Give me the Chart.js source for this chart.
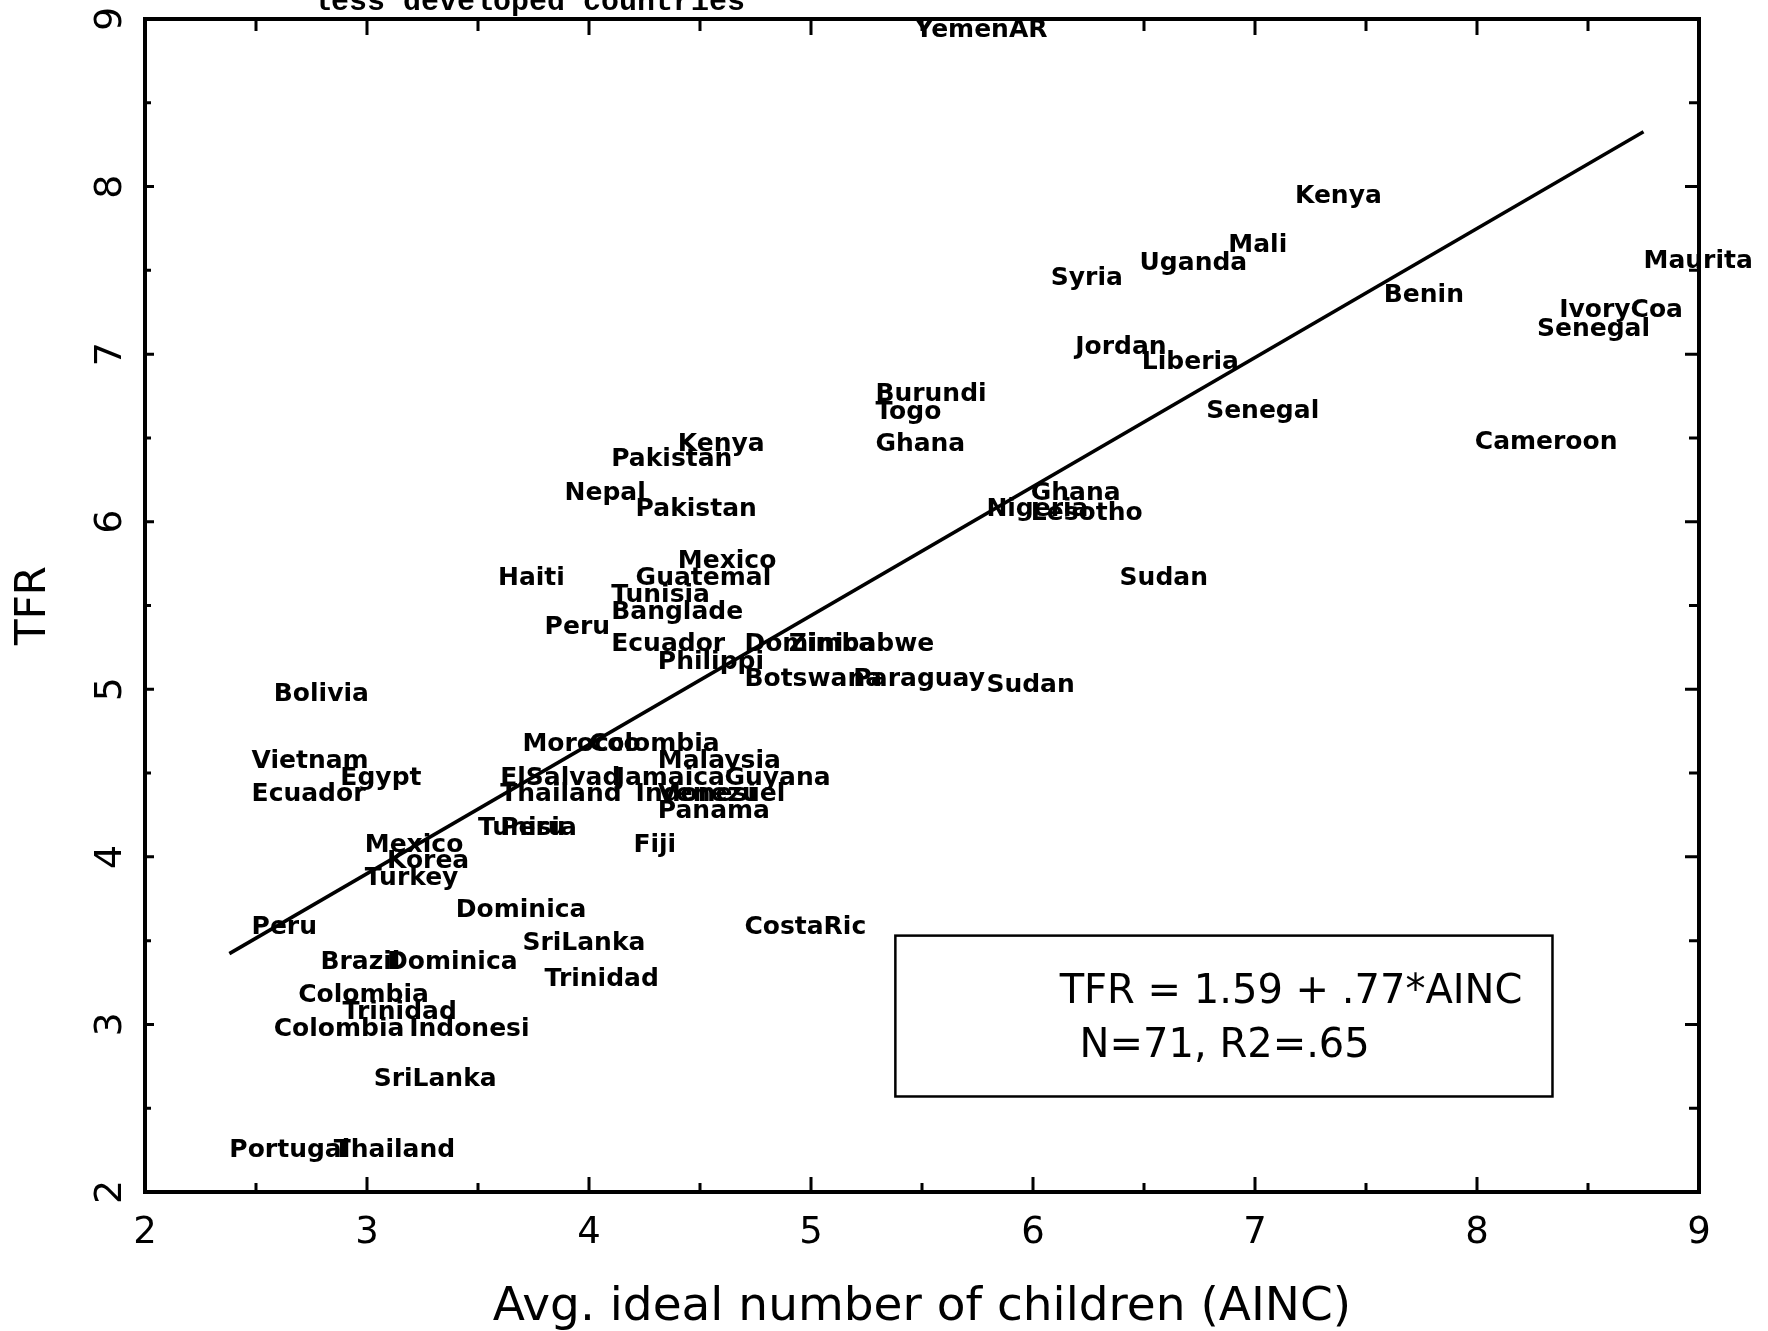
<!DOCTYPE html>
<html>
<head>
<meta charset="utf-8">
<title>TFR vs. average ideal number of children</title>
<script src="https://cdn.jsdelivr.net/npm/chart.js@4.4.0/dist/chart.umd.min.js"></script>
<style>
  html, body { margin: 0; padding: 0; background: #fff; }
  #wrap { width: 1768px; height: 1331px; }
</style>
</head>
<body>
<div id="wrap"><canvas id="chart" width="1768" height="1331"></canvas></div>
<script>
// Survey countries (one entry per survey), average ideal number of children, total fertility rate
const countries = [
  'YemenAR', 'Kenya', 'Mali', 'Uganda', 'Syria', 'Maurita', 'Benin', 'IvoryCoa', 'Senegal', 'Jordan',
  'Liberia', 'Senegal', 'Burundi', 'Togo', 'Ghana', 'Cameroon', 'Kenya', 'Pakistan', 'Nepal', 'Pakistan',
  'Ghana', 'Nigeria', 'Lesotho', 'Sudan', 'Haiti', 'Mexico', 'Guatemal', 'Tunisia', 'Banglade', 'Peru',
  'Ecuador', 'Dominica', 'Zimbabwe', 'Philippi', 'Botswana', 'Paraguay', 'Sudan', 'Bolivia', 'Vietnam', 'Egypt',
  'Ecuador', 'Morocco', 'Colombia', 'Malaysia', 'ElSalvad', 'Jamaica', 'Guyana', 'Thailand', 'Indonesi', 'Venezuel',
  'Panama', 'Tunisia', 'Peru', 'Fiji', 'Mexico', 'Korea', 'Turkey', 'Dominica', 'CostaRic', 'Peru',
  'SriLanka', 'Brazil', 'Dominica', 'Trinidad', 'Colombia', 'Trinidad', 'Colombia', 'Indonesi', 'SriLanka', 'Portugal',
  'Thailand'
];
const ainc = [
  5.47, 7.18, 6.88, 6.48, 6.08, 8.75, 7.58, 8.37, 8.27, 6.19,
  6.49, 6.78, 5.29, 5.29, 5.29, 7.99, 4.40, 4.10, 3.89, 4.21,
  5.99, 5.79, 5.99, 6.39, 3.59, 4.40, 4.21, 4.10, 4.10, 3.80,
  4.10, 4.70, 4.90, 4.31, 4.70, 5.19, 5.79, 2.58, 2.48, 2.88,
  2.48, 3.70, 4.00, 4.31, 3.60, 4.12, 4.61, 3.60, 4.21, 4.31,
  4.31, 3.50, 3.60, 4.20, 2.99, 3.09, 2.99, 3.40, 4.70, 2.48,
  3.70, 2.79, 3.09, 3.80, 2.69, 2.89, 2.58, 3.19, 3.03, 2.38,
  2.85
];
const tfr = [
  8.93, 7.94, 7.65, 7.54, 7.45, 7.55, 7.35, 7.26, 7.15, 7.04,
  6.95, 6.66, 6.76, 6.65, 6.46, 6.47, 6.46, 6.37, 6.17, 6.07,
  6.17, 6.07, 6.05, 5.66, 5.66, 5.76, 5.66, 5.56, 5.46, 5.37,
  5.27, 5.27, 5.27, 5.16, 5.06, 5.06, 5.02, 4.97, 4.57, 4.47,
  4.37, 4.67, 4.67, 4.57, 4.47, 4.47, 4.47, 4.37, 4.37, 4.37,
  4.27, 4.17, 4.17, 4.07, 4.07, 3.97, 3.87, 3.68, 3.58, 3.58,
  3.48, 3.37, 3.37, 3.27, 3.17, 3.07, 2.97, 2.97, 2.67, 2.25,
  2.25
];

// Axis ranges and tick spacing
const xRange = [2, 9];
const yRange = [2, 9];
const tickStep = 0.5;

// OLS fit reported in the inset box
const fitIntercept = 1.59;
const fitSlope = 0.77;
const fitN = 71;
const fitR2 = 0.65;

const headline = 'less developed countries';
const xTitle = 'Avg. ideal number of children (AINC)';
const yTitle = 'TFR';

const fmtCoef = v => String(v).replace(/^0\./, '.');
const boxLines = [
  `TFR = ${fitIntercept} + ${fmtCoef(fitSlope)}*AINC`,
  `N=${fitN}, R2=${fmtCoef(fitR2)}`
];

const points = countries.map((c, i) => ({ x: ainc[i], y: tfr[i] }));
const xMin = Math.min(...ainc), xMax = Math.max(...ainc);
const fitLine = [xMin, xMax].map(x => ({ x, y: fitIntercept + fitSlope * x }));

Chart.defaults.font.family = '"DejaVu Sans", "Liberation Sans", sans-serif';
Chart.defaults.color = '#000';

// Frame, inward tick marks, country names, inset box and clipped heading
const decorations = {
  id: 'decorations',
  afterDatasetsDraw(chart) {
    const ctx = chart.ctx;
    const { left, right, top, bottom } = chart.chartArea;
    const xs = chart.scales.x, ys = chart.scales.y;
    ctx.save();

    // top and right sides of the frame
    ctx.strokeStyle = '#000';
    ctx.lineWidth = 4;
    ctx.beginPath();
    ctx.moveTo(left - 2, top);
    ctx.lineTo(right, top);
    ctx.lineTo(right, bottom + 2);
    ctx.stroke();

    // inward ticks every half unit
    ctx.lineWidth = 3;
    ctx.beginPath();
    xs.ticks.forEach(t => {
      const px = xs.getPixelForValue(t.value);
      const major = Number.isInteger(t.value);
      ctx.moveTo(px, bottom);
      ctx.lineTo(px, bottom - (major ? 15 : 9));
      ctx.moveTo(px, top);
      ctx.lineTo(px, top + (major ? 16 : 12));
    });
    ys.ticks.forEach(t => {
      const py = ys.getPixelForValue(t.value);
      const major = Number.isInteger(t.value);
      ctx.moveTo(left, py);
      ctx.lineTo(left + (major ? 9 : 6), py);
      ctx.moveTo(right, py);
      ctx.lineTo(right - (major ? 14 : 10), py);
    });
    ctx.stroke();

    // country names start at each observation
    const meta = chart.getDatasetMeta(0);
    ctx.fillStyle = '#000';
    ctx.font = 'bold 25px "DejaVu Sans"';
    ctx.textAlign = 'left';
    ctx.textBaseline = 'middle';
    meta.data.forEach((pt, i) => ctx.fillText(countries[i], pt.x, pt.y));

    // regression inset
    const bx0 = xs.getPixelForValue(5.38), bx1 = xs.getPixelForValue(8.34);
    const by0 = ys.getPixelForValue(3.53), by1 = ys.getPixelForValue(2.57);
    ctx.lineWidth = 2.5;
    ctx.strokeRect(bx0, by0, bx1 - bx0, by1 - by0);
    ctx.font = '40px "DejaVu Sans"';
    ctx.fillText(boxLines[0], xs.getPixelForValue(6.12), ys.getPixelForValue(3.19));
    ctx.fillText(boxLines[1], xs.getPixelForValue(6.21), ys.getPixelForValue(2.87));

    // heading, cut by the top edge of the page
    ctx.font = 'bold 30px "Liberation Mono"';
    ctx.textBaseline = 'alphabetic';
    ctx.fillText(headline, 313, 10);
    ctx.restore();
  }
};

// Fixed axis thickness, no extra edge padding from the tick labels
const fixX = s => { s.height = 139; s.paddingLeft = 0; s.paddingRight = 0; };
const fixY = s => { s.width = 145; s.paddingTop = 0; s.paddingBottom = 0; };

new Chart(document.getElementById('chart'), {
  type: 'scatter',
  data: {
    datasets: [
      { label: 'countries', data: points, pointRadius: 0, pointHoverRadius: 0 },
      { type: 'line', label: 'fit', data: fitLine, borderColor: '#000', borderWidth: 3.5,
        pointRadius: 0, fill: false, tension: 0 }
    ]
  },
  options: {
    responsive: false,
    animation: false,
    devicePixelRatio: 1,
    events: [],
    layout: { padding: { top: 19, right: 69, left: 0, bottom: 0 } },
    plugins: { legend: { display: false }, tooltip: { enabled: false } },
    scales: {
      x: {
        type: 'linear',
        position: 'bottom',
        min: xRange[0], max: xRange[1],
        grid: { display: false, drawTicks: false },
        border: { display: true, color: '#000', width: 4 },
        ticks: {
          stepSize: tickStep, autoSkip: false, maxRotation: 0, padding: 19,
          font: { size: 37 }, color: '#000',
          callback: v => Number.isInteger(v) ? String(v) : ''
        },
        title: { display: true, text: xTitle, font: { size: 47, lineHeight: 1.0 }, color: '#000',
                 padding: { top: 0, bottom: 0 } },
        afterFit: fixX
      },
      y: {
        type: 'linear',
        position: 'left',
        min: yRange[0], max: yRange[1],
        grid: { display: false, drawTicks: false },
        border: { display: true, color: '#000', width: 4 },
        ticks: {
          stepSize: tickStep, autoSkip: false, minRotation: 90, maxRotation: 90,
          crossAlign: 'center', padding: 22, font: { size: 38 }, color: '#000',
          callback: v => Number.isInteger(v) ? String(v) : ''
        },
        title: { display: true, text: yTitle, font: { size: 42 }, color: '#000',
                 padding: { top: 9, bottom: 0 } },
        afterFit: fixY
      }
    }
  },
  plugins: [decorations]
});
</script>
</body>
</html>
